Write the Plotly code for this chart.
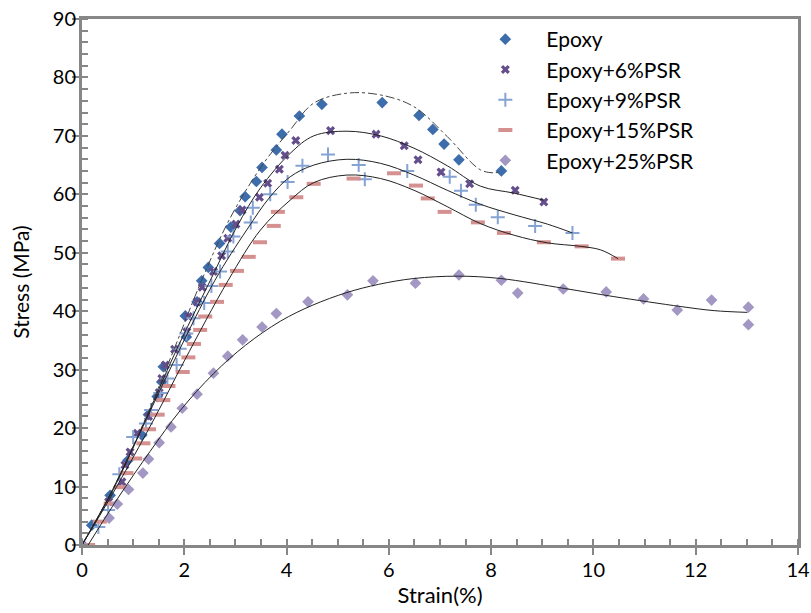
import plotly.graph_objects as go

# ---- measured points (strain %, stress MPa) ----
epoxy_x = [0, 0.19, 0.55, 0.9, 1.17, 1.30, 1.47, 1.56, 1.59, 2.04, 2.02, 2.25, 2.34, 2.47,
           2.69, 2.91, 3.09, 3.19, 3.41, 3.52, 3.80, 3.91, 4.25, 4.69, 5.87, 6.59, 6.86,
           7.08, 7.37, 8.20]
epoxy_y = [0, 3.4, 8.5, 14.5, 18.8, 22.3, 25.4, 27.9, 30.5, 35.6, 39.2, 41.6, 45.2, 47.5,
           51.6, 54.4, 57.2, 59.6, 62.2, 64.6, 67.6, 70.3, 73.4, 75.4, 75.7, 73.5, 71.1,
           68.6, 65.9, 64.0]

psr6_x = [0, 0.52, 0.78, 0.84, 0.94, 1.08, 1.30, 1.51, 1.56, 1.63, 1.81, 2.05, 2.08, 2.25,
          2.35, 2.57, 2.73, 2.85, 3.01, 3.13, 3.47, 3.63, 3.86, 3.97, 4.18, 4.86, 5.75,
          6.30, 6.57, 7.02, 7.58, 8.47, 9.03]
psr6_y = [0, 7.4, 10.8, 13.7, 15.9, 19.1, 22.0, 26.1, 28.5, 30.8, 33.5, 36.5, 39.1, 41.6,
          44.1, 46.8, 49.5, 52.5, 54.9, 57.3, 59.5, 61.9, 64.3, 66.7, 69.2, 70.9, 70.3,
          68.3, 65.9, 63.8, 61.8, 60.7, 58.7]

psr9_x = [0, 0.32, 0.51, 0.73, 1.00, 1.25, 1.35, 1.53, 1.67, 1.85, 1.91, 2.04, 2.18, 2.39,
          2.53, 2.70, 2.85, 2.96, 3.30, 3.34, 3.68, 4.02, 4.31, 4.81, 5.41, 5.53, 6.36,
          7.19, 7.41, 7.70, 8.13, 8.86, 9.59]
psr9_y = [0, 3.1, 6.0, 12.1, 18.5, 20.8, 23.1, 26.0, 28.5, 30.8, 33.6, 36.2, 38.8, 41.4,
          44.3, 46.8, 50.2, 52.8, 55.2, 57.7, 60.0, 62.1, 64.9, 66.8, 65.0, 62.6, 64.0,
          63.0, 60.6, 58.2, 56.1, 54.6, 53.4]

psr15_x = [0.12, 0.35, 0.56, 0.76, 0.87, 1.04, 1.20, 1.31, 1.48, 1.59, 1.69, 1.97, 2.08,
           2.19, 2.31, 2.41, 2.64, 2.81, 3.03, 3.26, 3.48, 3.75, 3.83, 4.19, 4.53, 5.31,
           6.10, 6.53, 6.76, 7.09, 7.74, 8.25, 9.03, 9.77, 10.48]
psr15_y = [0, 4.0, 7.1, 9.9, 12.3, 14.8, 17.4, 19.8, 22.3, 24.8, 27.2, 29.6, 32.1, 34.4,
           36.8, 39.1, 41.6, 44.5, 46.9, 49.3, 51.8, 54.6, 57.0, 59.5, 61.8, 62.7, 63.6,
           61.5, 59.3, 57.0, 55.2, 53.4, 51.8, 51.1, 49.0]

psr25_x = [0, 0.53, 0.69, 0.91, 1.19, 1.30, 1.51, 1.74, 1.96, 2.25, 2.57, 2.85, 3.14, 3.52,
           3.80, 4.42, 5.19, 5.69, 6.52, 7.37, 8.20, 8.52, 9.41, 10.25, 10.98, 11.64,
           12.31, 13.03, 13.03]
psr25_y = [0, 4.6, 7.0, 9.5, 12.3, 14.7, 17.5, 20.2, 23.4, 25.8, 29.4, 32.3, 35.1, 37.3,
           39.6, 41.6, 42.8, 45.2, 44.8, 46.2, 45.3, 43.1, 43.8, 43.3, 42.1, 40.2, 41.9,
           40.7, 37.7]

# ---- trendlines ----
fit_epoxy_x = [0, 0.6, 1.23, 1.8, 2.34, 2.9, 3.55, 4.07, 4.53, 5.18, 5.84, 6.49, 7.14, 7.79, 8.09, 8.2]
fit_epoxy_y = [0, 9.5, 21.4, 33.5, 45.3, 56.0, 65.3, 71.0, 75.6, 77.3, 77.0, 75.0, 69.9, 64.2, 63.7, 64.0]

fit6_x = [0, 0.6, 1.23, 1.8, 2.51, 3.03, 3.49, 4.07, 4.53, 5.18, 5.84, 6.49, 7.14, 7.79, 8.45, 9.03]
fit6_y = [0, 9.5, 21.2, 32.5, 45.3, 54.5, 61.1, 67.0, 70.0, 70.8, 70.0, 67.9, 64.9, 61.4, 60.2, 59.0]

fit9_x = [0, 0.6, 1.23, 1.8, 2.60, 3.22, 3.68, 4.07, 4.53, 5.18, 5.84, 6.49, 7.14, 7.79, 8.45, 9.10, 9.59]
fit9_y = [0, 9.3, 21.0, 31.5, 45.3, 53.9, 59.6, 63.0, 65.0, 66.0, 65.3, 63.3, 60.7, 58.3, 56.5, 54.9, 53.4]

fit15_x = [0, 0.6, 1.40, 2.0, 2.86, 3.49, 4.07, 4.53, 5.18, 5.84, 6.49, 7.14, 7.79, 8.45, 9.10, 9.75, 10.14, 10.48]
fit15_y = [0, 8.8, 21.4, 31.5, 45.3, 53.9, 59.0, 62.0, 63.3, 62.7, 60.7, 57.9, 55.0, 53.0, 51.7, 51.1, 50.5, 49.0]

fit25_x = [0.12, 0.7, 1.33, 1.92, 2.57, 3.2, 3.88, 4.5, 5.18, 5.8, 6.49, 7.34, 8.18, 9.43, 10.40, 11.71, 12.36, 13.01]
fit25_y = [0, 8.0, 16.0, 23.0, 29.3, 34.2, 38.3, 41.0, 43.2, 44.6, 45.6, 46.0, 45.6, 43.9, 42.5, 40.8, 40.1, 39.8]

FONT = "Lato, sans-serif"
AXIS_GRAY = "#878787"

fig = go.Figure()

fig.add_trace(go.Scatter(x=epoxy_x, y=epoxy_y, mode="markers", name="Epoxy",
                         marker=dict(symbol="diamond", size=9, color="#3D6DAB")))
fig.add_trace(go.Scatter(x=psr6_x, y=psr6_y, mode="markers", name="Epoxy+6%PSR",
                         marker=dict(symbol="x", size=8, color="#644E8C")))
fig.add_trace(go.Scatter(x=psr9_x, y=psr9_y, mode="markers", name="Epoxy+9%PSR",
                         marker=dict(symbol="cross-thin", size=10,
                                     line=dict(width=2, color="#85A3D3"))))
fig.add_trace(go.Scatter(x=psr15_x, y=psr15_y, mode="markers", name="Epoxy+15%PSR",
                         marker=dict(symbol="line-ew", size=10,
                                     line=dict(width=4, color="#D4918F"))))
fig.add_trace(go.Scatter(x=psr25_x, y=psr25_y, mode="markers", name="Epoxy+25%PSR",
                         marker=dict(symbol="diamond", size=9, color="#A397C4")))

# trendlines
fig.add_trace(go.Scatter(x=fit_epoxy_x, y=fit_epoxy_y, mode="lines", showlegend=False,
                         line=dict(color="#444444", width=1, dash="dashdot", shape="spline")))
for fx, fy in [(fit6_x, fit6_y), (fit9_x, fit9_y), (fit15_x, fit15_y), (fit25_x, fit25_y)]:
    fig.add_trace(go.Scatter(x=fx, y=fy, mode="lines", showlegend=False,
                             line=dict(color="#222222", width=1, shape="spline")))

axis_common = dict(
    showline=True, linecolor=AXIS_GRAY, linewidth=3, mirror=True,
    showgrid=False, zeroline=False, automargin=False,
    ticks="outside", ticklen=7, tickwidth=2, tickcolor=AXIS_GRAY,
    tickfont=dict(family=FONT, size=20, color="black"),
)

fig.update_layout(
    width=811, height=613,
    margin=dict(l=82, r=13, t=19, b=68),
    plot_bgcolor="white", paper_bgcolor="white",
    font=dict(family=FONT, color="black"),
    xaxis=dict(range=[0, 14], dtick=2, ticklabelstandoff=-2,
               minor=dict(dtick=0.5, ticks="inside", ticklen=6, tickwidth=2, tickcolor=AXIS_GRAY),
               title=dict(text="Strain(%)", font=dict(family=FONT, size=22), standoff=8),
               **axis_common),
    yaxis=dict(range=[0, 90], dtick=10, ticklabelstandoff=-8,
               minor=dict(dtick=2, ticks="inside", ticklen=6, tickwidth=2, tickcolor=AXIS_GRAY),
               title=dict(text="Stress (MPa)", font=dict(family=FONT, size=21), standoff=18),
               **axis_common),
    legend=dict(x=0.534, y=1.0, xanchor="left", yanchor="top",
                bgcolor="rgba(0,0,0,0)", borderwidth=0,
                font=dict(family=FONT, size=21), tracegroupgap=0, itemwidth=72),
)

# drop the default page margin so the figure sits at the window's top-left corner
fig.write_html("out.html", config={"displayModeBar": False},
               post_script="document.body.style.margin='0';")
